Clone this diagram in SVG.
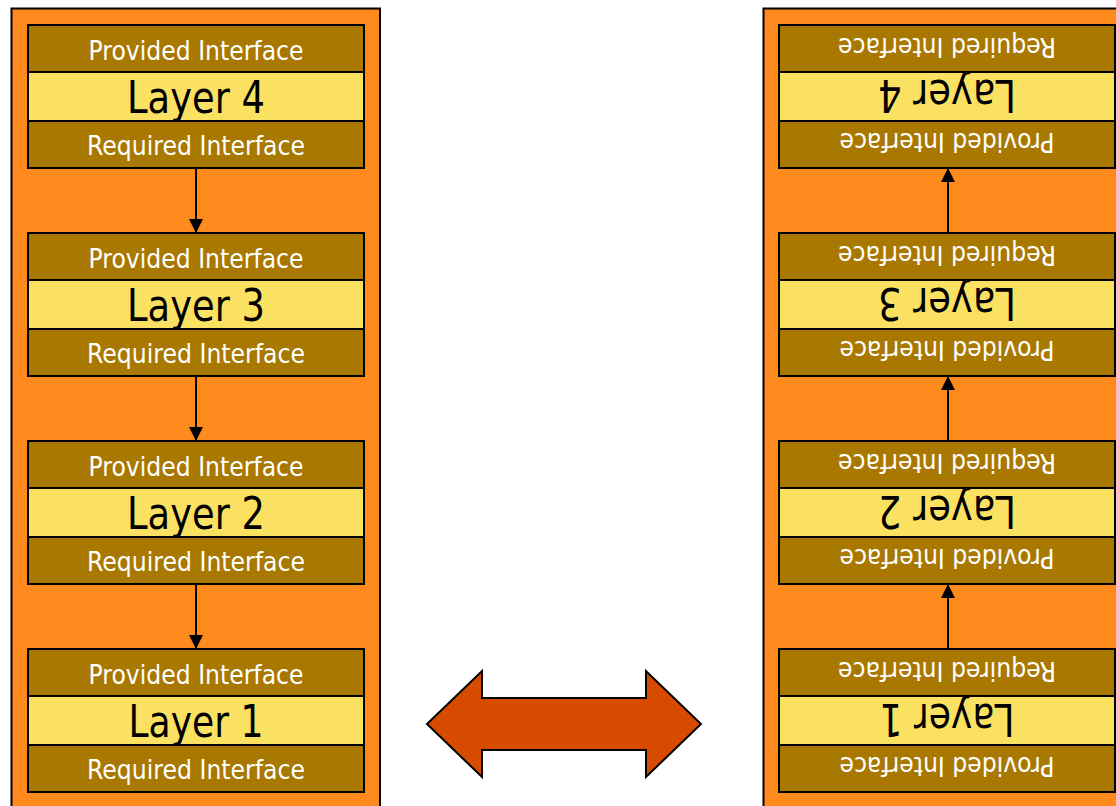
<svg xmlns="http://www.w3.org/2000/svg" width="1116" height="806" viewBox="0 0 1116 806">
<style>
.panel{fill:#FE8A1E;stroke:#000;stroke-width:2}
.band{fill:#A97800;stroke:#000;stroke-width:2}
.core{fill:#FBE162;stroke:#000;stroke-width:2}
.itf{font-family:"DejaVu Sans",sans-serif;font-size:26px;fill:#fff;text-anchor:middle}
.lay{font-family:"DejaVu Sans",sans-serif;font-size:44px;fill:#000;text-anchor:middle}
.conn{stroke:#000;stroke-width:2;fill:none;marker-end:url(#ah)}
</style>
<defs>
<marker id="ah" markerUnits="userSpaceOnUse" markerWidth="16" markerHeight="16" viewBox="0 0 16 16" refX="15" refY="8" orient="auto">
<path d="M1,1 L15,8 L1,15 Z" fill="#000"/>
</marker>
</defs>
<rect width="1116" height="806" fill="#fff"/>
<rect id="left-panel" class="panel" x="11.5" y="8.5" width="368.5" height="830"/>
<rect id="right-panel" class="panel" x="763.5" y="8.5" width="370" height="830"/>

<g id="L4">
<rect class="band" x="28" y="25" width="336" height="47"/>
<rect class="core" x="28" y="72" width="336" height="49"/>
<rect class="band" x="28" y="121" width="336" height="47"/>
<text class="itf" x="196" y="60" textLength="215" lengthAdjust="spacingAndGlyphs">Provided Interface</text>
<text class="lay" x="196" y="113" textLength="138" lengthAdjust="spacingAndGlyphs">Layer 4</text>
<text class="itf" x="196" y="155" textLength="218" lengthAdjust="spacingAndGlyphs">Required Interface</text>
</g>
<g id="L3">
<rect class="band" x="28" y="233" width="336" height="47"/>
<rect class="core" x="28" y="280" width="336" height="49"/>
<rect class="band" x="28" y="329" width="336" height="47"/>
<text class="itf" x="196" y="268" textLength="215" lengthAdjust="spacingAndGlyphs">Provided Interface</text>
<text class="lay" x="196" y="321" textLength="138" lengthAdjust="spacingAndGlyphs">Layer 3</text>
<text class="itf" x="196" y="363" textLength="218" lengthAdjust="spacingAndGlyphs">Required Interface</text>
</g>
<g id="L2">
<rect class="band" x="28" y="441" width="336" height="47"/>
<rect class="core" x="28" y="488" width="336" height="49"/>
<rect class="band" x="28" y="537" width="336" height="47"/>
<text class="itf" x="196" y="476" textLength="215" lengthAdjust="spacingAndGlyphs">Provided Interface</text>
<text class="lay" x="196" y="529" textLength="138" lengthAdjust="spacingAndGlyphs">Layer 2</text>
<text class="itf" x="196" y="571" textLength="218" lengthAdjust="spacingAndGlyphs">Required Interface</text>
</g>
<g id="L1">
<rect class="band" x="28" y="649" width="336" height="47"/>
<rect class="core" x="28" y="696" width="336" height="49"/>
<rect class="band" x="28" y="745" width="336" height="47"/>
<text class="itf" x="196" y="684" textLength="215" lengthAdjust="spacingAndGlyphs">Provided Interface</text>
<text class="lay" x="196" y="737" textLength="135" lengthAdjust="spacingAndGlyphs">Layer 1</text>
<text class="itf" x="196" y="779" textLength="218" lengthAdjust="spacingAndGlyphs">Required Interface</text>
</g>

<g id="R4">
<rect class="band" x="779" y="25" width="336" height="47"/>
<rect class="core" x="779" y="72" width="336" height="49"/>
<rect class="band" x="779" y="121" width="336" height="47"/>
<g transform="rotate(180 947 96.5)">
<text class="itf" x="947" y="60" textLength="215" lengthAdjust="spacingAndGlyphs">Provided Interface</text>
<text class="lay" x="947" y="113" textLength="138" lengthAdjust="spacingAndGlyphs">Layer 4</text>
<text class="itf" x="947" y="155" textLength="218" lengthAdjust="spacingAndGlyphs">Required Interface</text>
</g>
</g>
<g id="R3">
<rect class="band" x="779" y="233" width="336" height="47"/>
<rect class="core" x="779" y="280" width="336" height="49"/>
<rect class="band" x="779" y="329" width="336" height="47"/>
<g transform="rotate(180 947 304.5)">
<text class="itf" x="947" y="268" textLength="215" lengthAdjust="spacingAndGlyphs">Provided Interface</text>
<text class="lay" x="947" y="321" textLength="138" lengthAdjust="spacingAndGlyphs">Layer 3</text>
<text class="itf" x="947" y="363" textLength="218" lengthAdjust="spacingAndGlyphs">Required Interface</text>
</g>
</g>
<g id="R2">
<rect class="band" x="779" y="441" width="336" height="47"/>
<rect class="core" x="779" y="488" width="336" height="49"/>
<rect class="band" x="779" y="537" width="336" height="47"/>
<g transform="rotate(180 947 512.5)">
<text class="itf" x="947" y="476" textLength="215" lengthAdjust="spacingAndGlyphs">Provided Interface</text>
<text class="lay" x="947" y="529" textLength="138" lengthAdjust="spacingAndGlyphs">Layer 2</text>
<text class="itf" x="947" y="571" textLength="218" lengthAdjust="spacingAndGlyphs">Required Interface</text>
</g>
</g>
<g id="R1">
<rect class="band" x="779" y="649" width="336" height="47"/>
<rect class="core" x="779" y="696" width="336" height="49"/>
<rect class="band" x="779" y="745" width="336" height="47"/>
<g transform="rotate(180 947 720.5)">
<text class="itf" x="947" y="684" textLength="215" lengthAdjust="spacingAndGlyphs">Provided Interface</text>
<text class="lay" x="947" y="737" textLength="135" lengthAdjust="spacingAndGlyphs">Layer 1</text>
<text class="itf" x="947" y="779" textLength="218" lengthAdjust="spacingAndGlyphs">Required Interface</text>
</g>
</g>

<g id="double-arrow">
<polygon points="427,724 482,671 482,698 646,698 646,671 701,724 646,777 646,750 482,750 482,777" fill="#D64B00" stroke="#000" stroke-width="2" stroke-linejoin="miter"/>
</g>

<g id="connectors">
<line class="conn" x1="196" y1="169" x2="196" y2="233"/>
<line class="conn" x1="196" y1="377" x2="196" y2="441"/>
<line class="conn" x1="196" y1="585" x2="196" y2="649"/>
<line class="conn" x1="948" y1="233" x2="948" y2="168"/>
<line class="conn" x1="948" y1="441" x2="948" y2="376"/>
<line class="conn" x1="948" y1="649" x2="948" y2="584"/>
</g>
</svg>
